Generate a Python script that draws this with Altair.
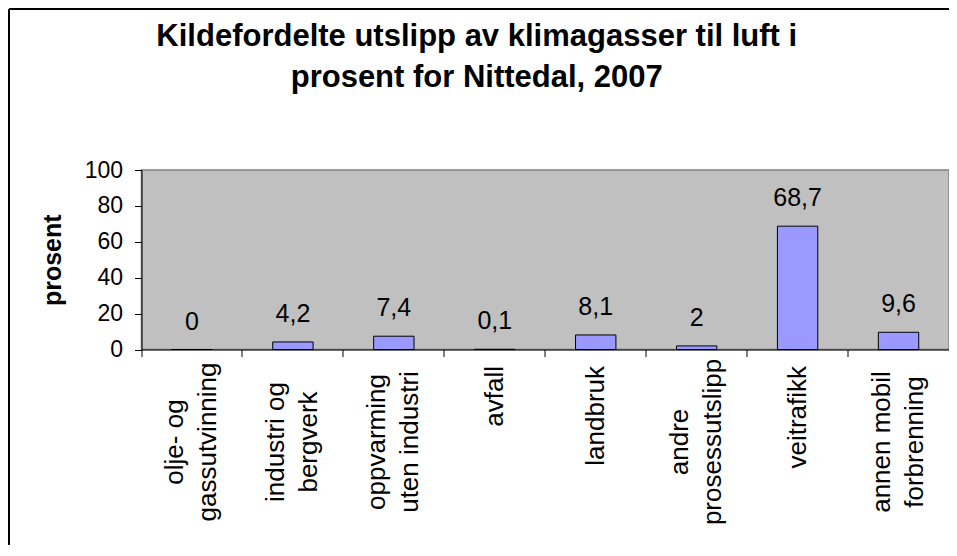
import altair as alt
import pandas as pd

# ---- data ----
categories = [
    "olje- og|gassutvinning",
    "industri og|bergverk",
    "oppvarming|uten industri",
    "avfall",
    "landbruk",
    "andre|prosessutslipp",
    "veitrafikk",
    "annen mobil|forbrenning",
]
values = [0, 4.2, 7.4, 0.1, 8.1, 2, 68.7, 9.6]
y_ticks = [0, 20, 40, 60, 80, 100]
title_lines = ["Kildefordelte utslipp av klimagasser til luft i", "prosent for Nittedal, 2007"]
y_title = "prosent"

df = pd.DataFrame({"kilde": categories, "prosent": values})

FONT = "Liberation Sans"
PAD_L, PAD_T = 133.5, 162
W, H = 807.5, 179.5
LINE_H = 33
MULTI = "indexof(datum.value, '|') >= 0"

x_enc = alt.X(
    "kilde:N",
    sort=None,
    scale=alt.Scale(paddingInner=0, paddingOuter=0),
    axis=alt.Axis(
        title=None,
        labelAngle=270,
        labelAlign={"condition": {"test": MULTI, "value": "center"}, "value": "right"},
        labelBaseline="middle",
        labelExpr="split(datum.label, '|')",
        labelFont=FONT,
        labelFontSize=26,
        labelLineHeight=LINE_H,
        labelColor="black",
        labelPadding={"condition": {"test": MULTI, "value": 85}, "value": 9},
        # centre two-line labels on their category
        labelOffset={"condition": {"test": MULTI, "value": -LINE_H / 2}, "value": 0},
        labelOverlap=False,
        labelLimit=400,
        bandPosition=0,
        tickSize=7,
        tickColor="black",
        tickWidth=1,
        domainColor="black",
        domainWidth=1,
    ),
)

y_enc = alt.Y(
    "prosent:Q",
    scale=alt.Scale(domain=[0, 100], nice=False),
    axis=alt.Axis(
        values=y_ticks,
        grid=False,
        title=y_title,
        titleFont=FONT,
        titleFontSize=25,
        titleFontWeight="bold",
        titleColor="black",
        titleAngle=270,
        titleX=-81,
        titleY=H / 2,
        titleAlign="center",
        titleBaseline="alphabetic",
        labelFont=FONT,
        labelFontSize=23,
        labelColor="black",
        labelPadding=12,
        tickSize=7,
        tickColor="black",
        tickWidth=1,
        domainColor="black",
        domainWidth=1,
    ),
)

base = alt.Chart(df)

bars = base.mark_bar(
    width=alt.RelativeBandSize(0.4), fill="#9999FF", stroke="black", strokeWidth=1
).encode(x=x_enc, y=y_enc)

labels = base.transform_calculate(
    lab="replace(toString(datum.prosent), '.', ',')"
).mark_text(
    dy=-20, baseline="alphabetic", align="center", font=FONT, fontSize=25, color="black"
).encode(x=x_enc, y=y_enc, text="lab:N")

one = alt.Data(values=[{}])

# outer frame of the chart object (its top and left sides are visible)
frame_top = alt.Chart(one).mark_rule(color="black", strokeWidth=2).encode(
    x=alt.value(-PAD_L + 1), x2=alt.value(W + 10), y=alt.value(-PAD_T + 1)
)
frame_left = alt.Chart(one).mark_rule(color="black", strokeWidth=2).encode(
    x=alt.value(-PAD_L + 1), y=alt.value(-PAD_T + 1), y2=alt.value(H + 400)
)

chart = (
    alt.layer(bars, labels, frame_top, frame_left)
    .properties(
        width=W,
        height=H,
        background="white",
        autosize=alt.AutoSizeParams(type="none"),
        padding={"left": PAD_L, "top": PAD_T, "right": 0, "bottom": 195},
        title=alt.TitleParams(
            text=title_lines,
            font=FONT,
            fontSize=31,
            fontWeight="bold",
            color="black",
            lineHeight=41,
            anchor="middle",
            frame="group",
            baseline="alphabetic",
            dx=-68.5,
            offset=-110,
        ),
    )
    .configure_view(fill="#C0C0C0", stroke="#808080", strokeWidth=1.5)
)

chart.save("out.html", embed_options={"renderer": "svg", "actions": False})
